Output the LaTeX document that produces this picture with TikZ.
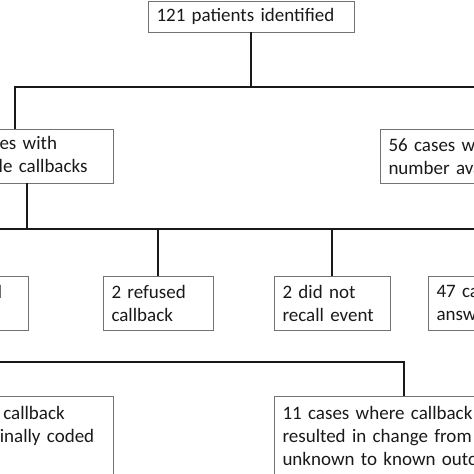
\documentclass[tikz,border=0pt]{standalone}
\usepackage{fontspec}
\setmainfont{Carlito}
\usetikzlibrary{positioning}

\begin{document}
\begin{tikzpicture}[
    x=1bp, y=-1bp,
    box/.style={draw=black!55, line width=0.9bp, anchor=north west, align=left,
        inner xsep=8.5bp, inner ysep=0bp, outer sep=0pt, text=black!90,
        font=\fontsize{19bp}{23bp}\selectfont},
    link/.style={draw=black!90, line width=1.5bp}
]
    \useasboundingbox (0,0) rectangle (474,474);
    \clip (0,0) rectangle (474,474);

    % --- top ---
    \node[box, minimum width=206bp, minimum height=31bp, text width=189bp] (top) at (148,1) {121 patients identified};

    % --- ROW 1: callbacks possible or not ---
    \node[box, minimum width=172bp, minimum height=54bp, text width=155bp] (lb) at (-59,129) {65 cases with\\possible callbacks};
    \node[box, minimum width=214bp, minimum height=54bp, text width=197bp] (rb) at (380,129) {56 cases with no phone\\number available};

    % --- ROW 2: outcome of the calls ---
    \node[box, minimum width=155bp, minimum height=54bp, text width=138bp] (ba) at (-127,276) {14 not reached\\\mbox{}};
    \node[box, minimum width=110bp, minimum height=54bp, text width=93bp] (bb) at (103,276) {2 refused\\callback};
    \node[box, minimum width=116bp, minimum height=54bp, text width=99bp] (bc) at (274,276) {2 did not\\recall event};
    \node[box, minimum width=112bp, minimum height=54bp, text width=95bp] (bd) at (428,276) {47 cases\\answered};

    % --- ROW 3: result of the callback ---
    \node[box, minimum width=237bp, minimum height=80bp, text width=220bp] (lc) at (-124,396) {6 cases where callback\\confirmed originally coded\\outcome};
    \node[box, minimum width=260bp, minimum height=80bp, text width=243bp] (rc) at (274,396) {11 cases where callback\\resulted in change from\\unknown to known outcome};

    % junctions
    \coordinate (j1) at (15,87);
    \coordinate (j2) at (0,229);
    \coordinate (j3) at (0,362);

    % connectors
    \draw[link] (top.south) -- (top.south |- j1);
    \draw[link] (lb.north -| j1) |- (rb.north |- j1) -- (rb.north);
    \draw[link] (lb.south) -- (lb.south |- j2);
    \draw[link] (ba.north) |- (bd.north |- j2) -- (bd.north);
    \foreach \n in {bb,bc} {
        \draw[link] (\n.north) -- (\n.north |- j2);
    }
    \draw[link] (lc.north) |- (rc.north |- j3) -- (rc.north);
\end{tikzpicture}
\end{document}
